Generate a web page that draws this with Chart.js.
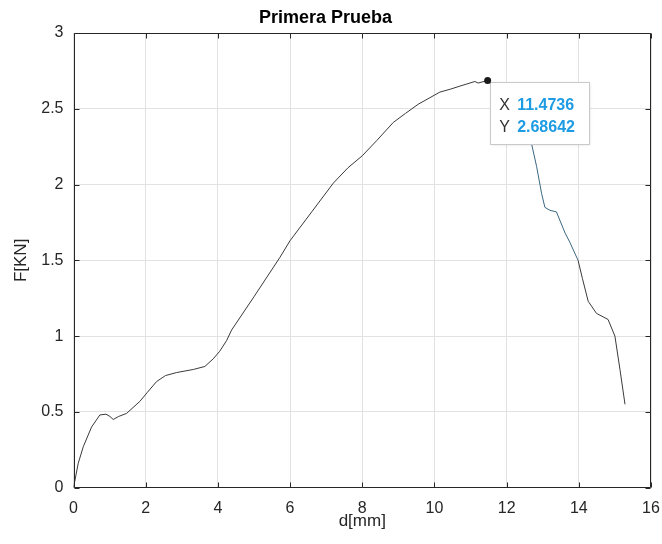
<!DOCTYPE html>
<html>
<head>
<meta charset="utf-8">
<script src="https://cdn.jsdelivr.net/npm/chart.js@4/dist/chart.umd.min.js"></script>
<style>
  html, body { margin: 0; padding: 0; background: #ffffff; }
  #wrap { width: 662px; height: 544px; }
</style>
</head>
<body>
<div id="wrap"><canvas id="c" width="662" height="544"></canvas></div>
<script>
// ---- data ----
const chartTitle = "Primera Prueba";
const xAxisLabel = "d[mm]";
const yAxisLabel = "F[KN]";
const xTickValues = [0, 2, 4, 6, 8, 10, 12, 14, 16];
const yTickValues = [0, 0.5, 1, 1.5, 2, 2.5, 3];
const dValues = [0, 0.13, 0.27, 0.50, 0.73, 0.90, 1.01, 1.10, 1.25, 1.47, 1.84, 2.05, 2.30, 2.55, 2.86, 3.32, 3.64, 3.87, 4.05, 4.24, 4.38, 5.0, 5.72, 6.0, 6.6, 7.2, 7.6, 8.0, 8.4, 8.86, 9.2, 9.55, 9.85, 10.15, 10.45, 10.71, 11.12, 11.21, 11.4736, 11.8, 12.2, 12.5, 12.69, 12.83, 12.97, 13.06, 13.2, 13.38, 13.62, 13.75, 13.98, 14.1, 14.26, 14.49, 14.81, 15.0, 15.14, 15.28];
const fValues = [0, 0.16, 0.27, 0.40, 0.48, 0.485, 0.47, 0.45, 0.47, 0.49, 0.57, 0.63, 0.70, 0.74, 0.76, 0.78, 0.80, 0.85, 0.90, 0.97, 1.04, 1.26, 1.52, 1.63, 1.82, 2.01, 2.11, 2.19, 2.29, 2.41, 2.47, 2.53, 2.57, 2.61, 2.63, 2.65, 2.68, 2.67, 2.68642, 2.62, 2.50, 2.38, 2.27, 2.12, 1.94, 1.85, 1.83, 1.82, 1.68, 1.62, 1.50, 1.38, 1.23, 1.15, 1.11, 1.00, 0.78, 0.55];
const tipIndex = 38; // data tip on the peak point
const highlightFrom = 12.6, highlightTo = 13.9;

const points = dValues.map((d, i) => ({ x: d, y: fValues[i] }));

const FONT = "'Liberation Sans', Arial, Helvetica, sans-serif";

const matlabBox = {
  id: 'matlabBox',
  afterDraw(chart) {
    const ctx = chart.ctx;
    const a = chart.chartArea;
    const xs = chart.scales.x, ys = chart.scales.y;
    ctx.save();
    ctx.strokeStyle = '#262626';
    ctx.lineWidth = 1;
    ctx.beginPath();
    const L = Math.round(a.left) + 0.5, R = Math.round(a.right) - 0.5;
    const T = Math.round(a.top) + 0.5, B = Math.round(a.bottom) - 0.5;
    ctx.rect(L, T, R - L, B - T);
    const tl = 5;
    xTickValues.forEach(v => {
      const px = Math.round(xs.getPixelForValue(v)) + 0.5;
      ctx.moveTo(px, B); ctx.lineTo(px, B - tl);
      ctx.moveTo(px, T); ctx.lineTo(px, T + tl);
    });
    yTickValues.forEach(v => {
      const py = Math.round(ys.getPixelForValue(v)) + 0.5;
      ctx.moveTo(L, py); ctx.lineTo(L + tl, py);
      ctx.moveTo(R, py); ctx.lineTo(R - tl, py);
    });
    ctx.stroke();

    // data tip
    const el = chart.getDatasetMeta(0).data[tipIndex];
    const mx = el.x, my = el.y;
    const bx = mx + 2.5, by = my + 1.5, bw = 99, bh = 62;
    ctx.shadowColor = 'rgba(0,0,0,0.18)';
    ctx.shadowBlur = 3;
    ctx.shadowOffsetX = 1;
    ctx.shadowOffsetY = 1;
    ctx.fillStyle = '#ffffff';
    ctx.fillRect(bx, by, bw, bh);
    ctx.shadowColor = 'transparent';
    ctx.strokeStyle = '#c9c9c9';
    ctx.strokeRect(Math.round(bx) + 0.5, Math.round(by) + 0.5, bw, bh);

    ctx.beginPath();
    ctx.fillStyle = '#1a1a1a';
    ctx.arc(mx, my, 3.5, 0, Math.PI * 2);
    ctx.fill();

    ctx.textBaseline = 'alphabetic';
    ctx.textAlign = 'left';
    ctx.font = '16px ' + FONT;
    ctx.fillStyle = '#333333';
    ctx.fillText('X', bx + 9, my + 29);
    ctx.fillText('Y', bx + 9, my + 51);
    ctx.font = 'bold 16px ' + FONT;
    ctx.fillStyle = '#1d9be3';
    ctx.fillText(String(dValues[tipIndex]), bx + 27, my + 29);
    ctx.fillText(String(fValues[tipIndex]), bx + 27, my + 51);
    ctx.restore();
  }
};

new Chart(document.getElementById('c'), {
  type: 'line',
  data: {
    datasets: [{
      data: points,
      borderColor: '#3a3a3a',
      borderWidth: 1,
      pointRadius: 0,
      tension: 0,
      fill: false,
      segment: {
        borderColor: ctx => {
          const x0 = ctx.p0.parsed.x;
          return (x0 >= highlightFrom && x0 < highlightTo) ? '#3a6680' : '#3a3a3a';
        }
      }
    }]
  },
  options: {
    responsive: false,
    animation: false,
    devicePixelRatio: 1,
    layout: { padding: { left: 0, right: 11, top: 0, bottom: 0 } },
    plugins: {
      legend: { display: false },
      tooltip: { enabled: false },
      title: {
        display: true,
        text: chartTitle,
        color: '#000000',
        font: { family: FONT, size: 18, weight: 'bold', lineHeight: 1.2 },
        padding: { top: 7, bottom: 4.4 }
      }
    },
    scales: {
      x: {
        type: 'linear',
        min: 0, max: 16,
        afterBuildTicks: s => { s.ticks = xTickValues.map(v => ({ value: v })); },
        afterFit: s => { s.height = 56.3; s.paddingLeft = 0; s.paddingRight = 0; },
        grid: { color: '#e2e2e2', lineWidth: 1, drawTicks: false },
        border: { display: false },
        ticks: { color: '#262626', font: { family: FONT, size: 16 }, padding: 11, maxRotation: 0,
                 callback: v => String(v) },
        title: {
          display: true, text: xAxisLabel, color: '#262626',
          font: { family: FONT, size: 17, lineHeight: 1.2 },
          padding: { top: 0, bottom: 12.8 }
        }
      },
      y: {
        type: 'linear',
        min: 0, max: 3,
        afterBuildTicks: s => { s.ticks = yTickValues.map(v => ({ value: v })); },
        afterFit: s => { s.width = 73.5; s.paddingTop = 0; s.paddingBottom = 0; },
        grid: { color: '#e2e2e2', lineWidth: 1, drawTicks: false },
        border: { display: false },
        ticks: { color: '#262626', font: { family: FONT, size: 16 }, padding: 10,
                 callback: v => String(v) },
        title: {
          display: true, text: yAxisLabel, color: '#262626',
          font: { family: FONT, size: 17, lineHeight: 1.2 },
          padding: { top: 11.5, bottom: 0 }
        }
      }
    }
  },
  plugins: [matlabBox]
});
</script>
</body>
</html>
